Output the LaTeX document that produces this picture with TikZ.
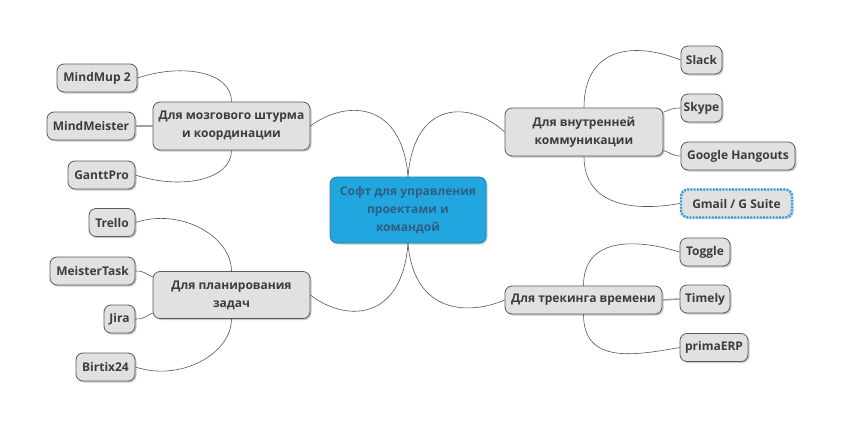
\documentclass[tikz,border=0pt]{standalone}
\usepackage{fontspec}
\setmainfont{Open Sans}
\usetikzlibrary{shadows}
\definecolor{nodefill}{HTML}{E1E1E1}
\definecolor{nodeline}{HTML}{5A5A5A}
\definecolor{nodetext}{HTML}{3C3C3C}
\definecolor{centfill}{HTML}{22A6DF}
\definecolor{centline}{HTML}{1C7FAE}
\definecolor{centtext}{HTML}{2E5F82}
\definecolor{linkcol}{HTML}{555555}
\definecolor{straightcol}{HTML}{A0A0A0}
\definecolor{selblue}{HTML}{3E97C4}
\definecolor{sellight}{HTML}{A9D8EE}
\tikzset{
  box/.style={draw=nodeline, fill=nodefill, rounded corners=7pt, line width=0.8pt,
    text=nodetext, font=\bfseries\fontsize{12}{18}\selectfont, align=center,
    inner sep=0pt, minimum height=28pt,
    drop shadow={shadow xshift=1.5pt, shadow yshift=-1.5pt, opacity=0.35, fill=black!60}},
  centbox/.style={box, draw=centline, fill=centfill, text=centtext},
  link/.style={draw=linkcol, line width=0.6pt},
  straight/.style={draw=straightcol, line width=1.6pt},
}
\begin{document}
\begin{tikzpicture}[x=1pt,y=-1pt]
\useasboundingbox (0,0) rectangle (847,429);
% central
\node[centbox, minimum width=156pt, minimum height=66pt] (c) at (408,210) {Софт для управления\\проектами и\\командой};
% branches
\node[box, minimum width=157pt, minimum height=48pt] (b1) at (231.5,126) {Для мозгового штурма\\и координации};
\node[box, minimum width=157pt, minimum height=47pt] (b2) at (231.5,295) {Для планирования\\задач};
\node[box, minimum width=158pt, minimum height=48pt] (b3) at (584,132) {Для внутренней\\коммуникации};
\node[box, minimum width=157pt] (b4) at (583.5,300) {Для трекинга времени};
% left leaves
\node[box, minimum width=80pt] (mm) at (97,78) {MindMup 2};
\node[box, minimum width=88pt] (mme) at (91,126) {MindMeister};
\node[box, minimum width=67pt] (gp) at (101.5,175) {GanttPro};
\node[box, minimum width=46pt] (tr) at (112,222.5) {Trello};
\node[box, minimum width=85pt] (mt) at (92.5,271) {MeisterTask};
\node[box, minimum width=31pt] (ji) at (119.5,319) {Jira};
\node[box, minimum width=59pt] (bx) at (105.5,367) {Birtix24};
% right leaves
\node[box, minimum width=41pt] (sl) at (701.5,60) {Slack};
\node[box, minimum width=41pt] (sk) at (701.5,108) {Skype};
\node[box, minimum width=114pt] (gh) at (738,156) {Google Hangouts};
\node[box, minimum width=111pt, draw=sellight, line width=2.4pt,
      postaction={draw=selblue, line width=2.4pt, dash pattern=on 1.6pt off 1.6pt}] (gm) at (736.5,203.5) {Gmail / G Suite};
\node[box, minimum width=50pt] (tg) at (705,252) {Toggle};
\node[box, minimum width=50pt] (tm) at (705,299) {Timely};
\node[box, minimum width=68pt] (pe) at (714,347.5) {primaERP};
% center connectors
\begin{scope}[on background layer/.try]
\end{scope}
\draw[link] (c.north) .. controls (402,100) and (345,100) .. (b1.east);
\draw[link] (c.north) .. controls (414,100) and (470,100) .. (b3.west);
\draw[link] (c.south) .. controls (402,322) and (345,322) .. (b2.east);
\draw[link] (c.south) .. controls (414,315) and (470,315) .. (b4.west);
% branch 1
\draw[link] (mm.east) .. controls +(45,-15) and +(0,-30) .. (b1.north);
\draw[straight] (mme.east) -- (b1.west);
\draw[link] (gp.east) .. controls +(45,15) and +(0,30) .. (b1.south);
% branch 2
\draw[link] (tr.east) .. controls +(45,-15) and +(0,-35) .. (b2.north);
\draw[link] (mt.east) .. controls +(10,0) and +(-8,-3) .. (b2.167);
\draw[link] (ji.east) .. controls +(10,0) and +(-8,3) .. (b2.193);
\draw[link] (bx.east) .. controls +(45,15) and +(0,35) .. (b2.south);
% branch 3
\draw[link] (b3.north) .. controls +(0,-58) and +(-50,-20) .. (sl.west);
\draw[link] (b3.14) .. controls +(8,-3) and +(-8,0) .. (sk.west);
\draw[link] (b3.-13) .. controls +(8,3) and +(-8,0) .. (gh.west);
\draw[link] (b3.south) .. controls +(0,50) and +(-45,8) .. (gm.west);
% branch 4
\draw[link] (b4.north) .. controls +(0,-48) and +(-45,-14) .. (tg.west);
\draw[straight] (b4.east) -- (tm.west);
\draw[link] (b4.south) .. controls +(0,50) and +(-45,8) .. (pe.west);
\end{tikzpicture}
\end{document}
